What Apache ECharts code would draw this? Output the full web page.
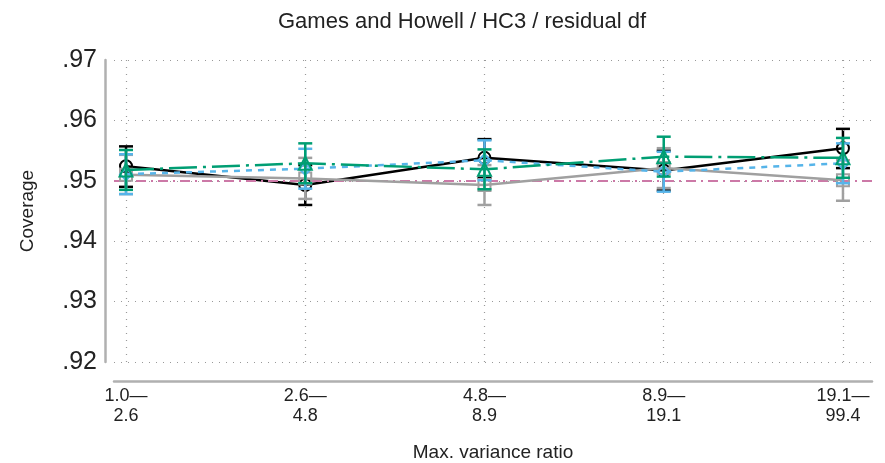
<!DOCTYPE html>
<html>
<head>
<meta charset="utf-8">
<script src="https://cdn.jsdelivr.net/npm/echarts@6/dist/echarts.min.js"></script>
<style>
  html, body { margin: 0; padding: 0; background: #fff; }
  #chart { width: 885px; height: 463px; }
</style>
</head>
<body>
<div id="chart"></div>
<script>
// categories (max variance ratio bins)
var categories = ['1.0\u2014\n2.6', '2.6\u2014\n4.8', '4.8\u2014\n8.9', '8.9\u2014\n19.1', '19.1\u2014\n99.4'];
var yTicks = [0.92, 0.93, 0.94, 0.95, 0.96, 0.97];
var nominal = 0.95;

// coverage estimates and CI bounds per series
var blackEst = [0.9524, 0.9493, 0.9538, 0.9517, 0.9554];
var blackLo  = [0.9490, 0.9460, 0.9505, 0.9484, 0.9521];
var blackHi  = [0.9557, 0.9526, 0.9569, 0.9550, 0.9586];

var grayEst = [0.9510, 0.9504, 0.9493, 0.9521, 0.9501];
var grayLo  = [0.9478, 0.9470, 0.9460, 0.9488, 0.9467];
var grayHi  = [0.9543, 0.9538, 0.9526, 0.9554, 0.9534];

var blueEst = [0.9511, 0.9520, 0.9534, 0.9515, 0.9529];
var blueLo  = [0.9478, 0.9487, 0.9501, 0.9482, 0.9496];
var blueHi  = [0.9544, 0.9553, 0.9567, 0.9548, 0.9562];

var greenEst = [0.9518, 0.9529, 0.9519, 0.9540, 0.9538];
var greenLo  = [0.9485, 0.9496, 0.9486, 0.9507, 0.9505];
var greenHi  = [0.9551, 0.9562, 0.9552, 0.9573, 0.9571];

var FONT = 'Liberation Sans';

function points(est) {
    return est.map(function (v, i) { return [i + 1, v]; });
}
function bars(lo, hi) {
    return lo.map(function (v, i) { return [i + 1, v, hi[i]]; });
}

function errRender(color) {
    return function (params, api) {
        var x = api.value(0);
        var p1 = api.coord([x, api.value(1)]);
        var p2 = api.coord([x, api.value(2)]);
        var w = 7;
        var st = { stroke: color, lineWidth: 2.5 };
        return {
            type: 'group',
            children: [
                { type: 'line', shape: { x1: p1[0], y1: p1[1], x2: p2[0], y2: p2[1] }, style: st },
                { type: 'line', shape: { x1: p1[0] - w, y1: p1[1], x2: p1[0] + w, y2: p1[1] }, style: st },
                { type: 'line', shape: { x1: p2[0] - w, y1: p2[1], x2: p2[0] + w, y2: p2[1] }, style: st }
            ]
        };
    };
}

function lineSeries(name, est, color, symbol, type, width, z) {
    return {
        name: name,
        type: 'line',
        data: points(est),
        symbol: symbol,
        symbolSize: symbol === 'triangle' ? 13 : 12,
        z: z,
        lineStyle: { color: color, width: width, type: type },
        itemStyle: { color: 'rgba(255,255,255,0)', borderColor: color, borderWidth: 2 }
    };
}

function errSeries(name, lo, hi, color, z) {
    return {
        name: name + ' CI',
        type: 'custom',
        data: bars(lo, hi),
        encode: { x: 0, y: [1, 2] },
        renderItem: errRender(color),
        z: z
    };
}

var black = '#000000', gray = '#a0a0a0', blue = '#56b4e9', green = '#009e73', pink = '#cc79a7';

var option = {
    animation: false,
    backgroundColor: '#fff',
    textStyle: { fontFamily: FONT },
    title: {
        text: 'Games and Howell / HC3 / residual df',
        left: 457,
        textAlign: 'center',
        top: 6,
        textStyle: { fontFamily: FONT, fontSize: 22, fontWeight: 'normal', color: '#222' }
    },
    grid: { left: 114, right: 13, top: 60, bottom: 101, outerBoundsMode: 'none' },
    xAxis: {
        type: 'value',
        min: 0.933,
        max: 5.162,
        offset: 19,
        name: 'Max. variance ratio',
        nameLocation: 'middle',
        nameGap: 62,
        nameTextStyle: { fontFamily: FONT, fontSize: 19, color: '#222' },
        axisLine: { show: true, lineStyle: { color: '#b0b0b0', width: 2.5 } },
        axisTick: { show: false },
        splitLine: { show: false },
        axisLabel: {
            customValues: [1, 2, 3, 4, 5],
            formatter: function (v) { return categories[Math.round(v) - 1] || ''; },
            fontFamily: FONT,
            fontSize: 18,
            lineHeight: 20,
            color: '#222',
            margin: 5
        }
    },
    yAxis: {
        type: 'value',
        min: yTicks[0],
        max: yTicks[yTicks.length - 1],
        interval: 0.01,
        offset: 9,
        name: 'Coverage',
        nameLocation: 'middle',
        nameGap: 68,
        nameTextStyle: { fontFamily: FONT, fontSize: 19, color: '#222' },
        axisLine: { show: true, lineStyle: { color: '#b0b0b0', width: 2.5 } },
        axisTick: { show: false },
        axisLabel: {
            formatter: function (v) { return v.toFixed(2).replace(/^0/, ''); },
            fontFamily: FONT,
            fontSize: 25,
            color: '#222',
            margin: 8
        },
        splitLine: { show: true, lineStyle: { color: '#999', width: 1.2, type: [1, 6] } }
    },
    series: [
        {
            name: 'grid',
            type: 'line',
            data: [],
            z: 1,
            markLine: {
                silent: true,
                symbol: 'none',
                label: { show: false },
                lineStyle: { color: '#999', width: 1.2, type: [1, 6] },
                data: categories.map(function (c, i) { return { xAxis: i + 1 }; })
            }
        },
        {
            name: 'nominal',
            type: 'line',
            data: [],
            z: 2,
            markLine: {
                silent: true,
                symbol: 'none',
                label: { show: false },
                lineStyle: { color: pink, width: 2, type: [10, 5, 2, 5] },
                data: [{ yAxis: nominal }]
            }
        },
        errSeries('black', blackLo, blackHi, black, 3),
        lineSeries('black', blackEst, black, 'circle', 'solid', 2.5, 4),
        errSeries('gray', grayLo, grayHi, gray, 5),
        lineSeries('gray', grayEst, gray, 'rect', 'solid', 2.5, 6),
        errSeries('blue', blueLo, blueHi, blue, 7),
        lineSeries('blue', blueEst, blue, 'diamond', [6, 6], 2.5, 8),
        errSeries('green', greenLo, greenHi, green, 9),
        lineSeries('green', greenEst, green, 'triangle', [28, 6, 3, 6], 2.5, 10)
    ]
};

var myChart = echarts.init(document.getElementById('chart'));
myChart.setOption(option);
</script>
</body>
</html>
